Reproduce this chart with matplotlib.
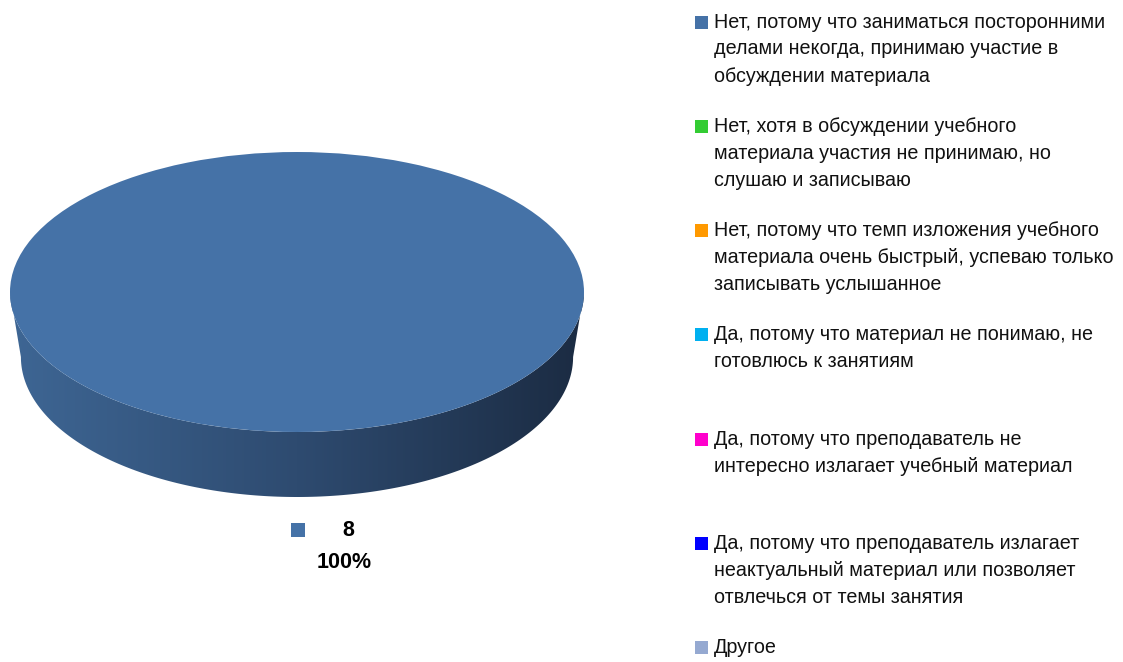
import numpy as np
import matplotlib
matplotlib.use("Agg")
import matplotlib.pyplot as plt
from matplotlib.patches import Rectangle, Polygon
from matplotlib.colors import LinearSegmentedColormap

categories = [
    "Нет, потому что заниматься посторонними\nделами некогда, принимаю участие в\nобсуждении материала",
    "Нет, хотя в обсуждении учебного\nматериала участия не принимаю, но\nслушаю и записываю",
    "Нет, потому что темп изложения учебного\nматериала очень быстрый, успеваю только\nзаписывать услышанное",
    "Да, потому что материал не понимаю, не\nготовлюсь к занятиям",
    "Да, потому что преподаватель не\nинтересно излагает учебный материал",
    "Да, потому что преподаватель излагает\nнеактуальный материал или позволяет\nотвлечься от темы занятия",
    "Другое",
]
values = [8, 0, 0, 0, 0, 0, 0]
colors = ["#4572A7", "#33CC33", "#FF9900", "#00B0F0", "#FF00CC", "#0000FF", "#95A9D1"]

FONT = ["Liberation Sans", "DejaVu Sans"]
plt.rcParams["font.family"] = FONT

W, H = 1123, 662
fig = plt.figure(figsize=(W / 100, H / 100), dpi=100)

# ---- pie axes (top ellipse: x 10..584, y 152..432 px; depth 65 px) ----
depth_px = 65
b_px = 140
left, right, top, bottom = 10, 584, 152, 432 + depth_px
ax = fig.add_axes([left / W, (H - bottom) / H, (right - left) / W, (bottom - top) / H])
d = depth_px / b_px
shrink = 0.962

total = sum(values)
fracs = [v / total for v in values]

start = 0.0
for f, c in zip(fracs, colors):
    if f <= 0:
        continue
    a0, a1 = start * 360, (start + f) * 360
    start += f
    lo, hi = max(a0, 180), min(a1, 360)
    if hi <= lo:
        continue
    t = np.radians(np.linspace(lo, hi, 200))
    xt, yt = np.cos(t), np.sin(t)
    xb, yb = shrink * np.cos(t), np.sin(t) - d
    poly = np.column_stack([np.r_[xt, xb[::-1]], np.r_[yt, yb[::-1]]])
    p = Polygon(poly, closed=True, facecolor="none", edgecolor="none")
    ax.add_patch(p)
    cmap = LinearSegmentedColormap.from_list("side", ["#3E6694", "#2E4B70", "#1B2B42"])
    grad = np.linspace(0, 1, 256).reshape(1, -1)
    im = ax.imshow(grad, cmap=cmap, extent=[-1, 1, -1 - d, 0.0], aspect="auto", zorder=1)
    im.set_clip_path(p)

wedges, _ = ax.pie(values, colors=colors, startangle=90, counterclock=False,
                   radius=1, center=(0, 0), wedgeprops=dict(linewidth=0))
for w in wedges:
    w.set_zorder(2)
ax.set_aspect("auto")
ax.set_xlim(-1, 1)
ax.set_ylim(-1 - d, 1)
ax.axis("off")

# ---- overlay axes in pixel coords for labels/legend ----
ov = fig.add_axes([0, 0, 1, 1], zorder=5)
ov.set_xlim(0, W)
ov.set_ylim(H, 0)
ov.axis("off")
ov.patch.set_alpha(0)

fs = 14.2
# data label
ov.add_patch(Rectangle((291, 523), 14, 14, facecolor=colors[0], edgecolor="none"))
ov.text(348, 531, f"{values[0]}", ha="center", va="center", fontsize=15.5, fontweight="bold")
ov.text(344, 562, f"{fracs[0]*100:.0f}%", ha="center", va="center", fontsize=15.5, fontweight="bold")

# legend
y0, step, lh = 22, 104.3, 27
for i, (lab, c) in enumerate(zip(categories, colors)):
    y = y0 + i * step
    ov.add_patch(Rectangle((695, y - 6.5), 13, 13, facecolor=c, edgecolor="none"))
    for j, line in enumerate(lab.split("\n")):
        ov.text(714, y + j * lh, line, ha="left", va="center", fontsize=fs, color="#111111")

fig.savefig("out.png", dpi=100, facecolor="white")
